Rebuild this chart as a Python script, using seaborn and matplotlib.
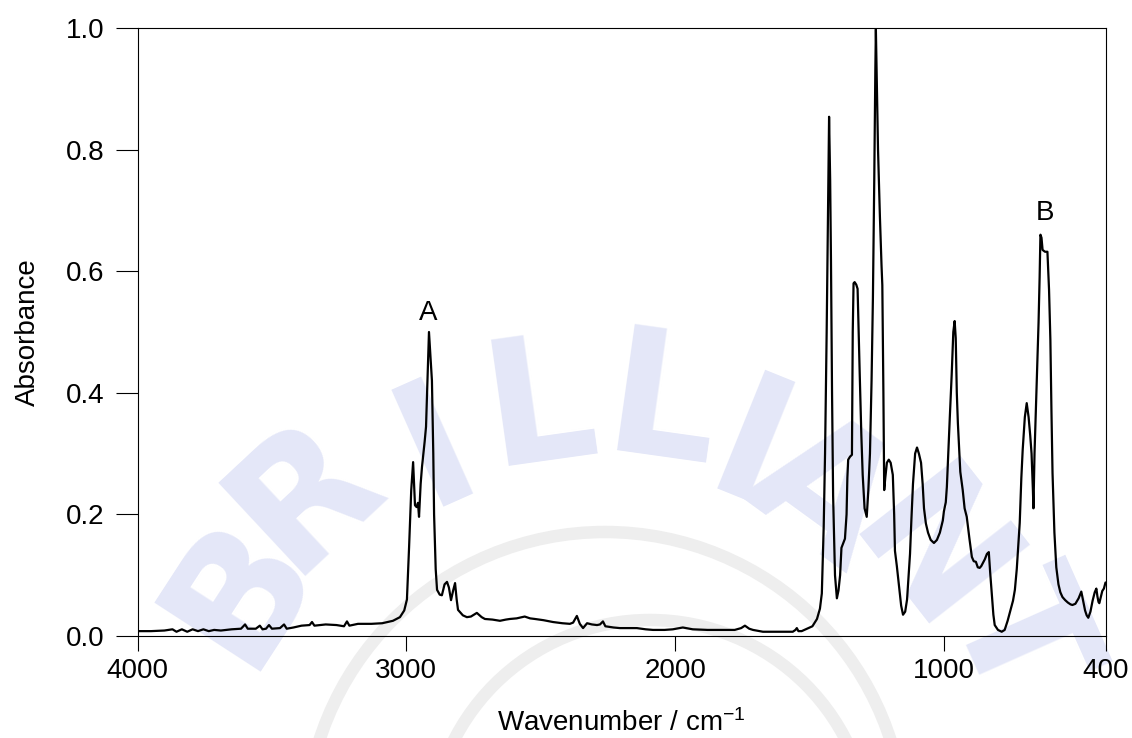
import matplotlib
matplotlib.use("Agg")
import matplotlib.pyplot as plt
from matplotlib.patches import Circle
import numpy as np
import pandas as pd
import seaborn as sns

# ---------------- data ----------------
wavenumber = [
    4000, 3950, 3900, 3870, 3855, 3835, 3815, 3795, 3775, 3755, 3735, 3715, 3690, 3650,
    3615, 3600, 3590, 3560, 3545, 3535, 3522, 3511, 3500, 3470, 3455, 3445, 3420, 3390,
    3360, 3351, 3342, 3300, 3260, 3232, 3221, 3212, 3180, 3130, 3090, 3050, 3024, 3008,
    2998, 2990, 2982, 2975, 2968, 2962, 2957, 2953, 2947, 2942, 2932, 2927, 2920, 2916,
    2912, 2905, 2900, 2897, 2891, 2886, 2876, 2868, 2858, 2849, 2842, 2834, 2826, 2819,
    2813, 2808, 2790, 2775, 2760, 2738, 2720, 2708, 2680, 2652, 2630, 2615, 2590, 2560,
    2540, 2522, 2490, 2455, 2420, 2392, 2380, 2366, 2355, 2343, 2328, 2310, 2291, 2280,
    2269, 2260, 2230, 2206, 2170, 2143, 2110, 2083, 2040, 2009, 1972, 1935, 1880, 1835,
    1779, 1755, 1741, 1725, 1711, 1674, 1620, 1563, 1553, 1548, 1542, 1530, 1510, 1490,
    1473, 1462, 1455, 1448, 1443, 1437, 1432, 1428, 1424, 1421, 1417, 1413, 1406, 1399,
    1393, 1387, 1382, 1376, 1369, 1363, 1360, 1357, 1350, 1343, 1340, 1337, 1333, 1327,
    1322, 1318, 1314, 1308, 1303, 1296, 1288, 1282, 1276, 1270, 1265, 1260, 1256, 1254,
    1250, 1246, 1239, 1233, 1230, 1226, 1223, 1219, 1213, 1206, 1199, 1191, 1186, 1183,
    1176, 1170, 1160, 1153, 1145, 1138, 1132, 1127, 1122, 1116, 1108, 1101, 1094, 1086,
    1080, 1075, 1068, 1060, 1050, 1038, 1027, 1016, 1005, 1001, 994, 990, 984, 979,
    972, 966, 961, 957, 953, 949, 940, 931, 924, 916, 906, 897, 890, 882,
    875, 868, 862, 856, 849, 841, 834, 829, 823, 817, 812, 800, 786, 775,
    764, 752, 744, 737, 730, 724, 719, 713, 708, 700, 693, 686, 680, 675,
    670, 668, 664, 660, 657, 652, 649, 645, 642, 638, 634, 625, 616, 610,
    605, 601, 597, 590, 583, 575, 568, 560, 550, 540, 530, 523, 512, 500,
    490, 484, 476, 470, 464, 456, 448, 440, 434, 430, 426, 423, 418, 412,
    406, 400,
]
absorbance = [
    0.008, 0.008, 0.009, 0.011, 0.007, 0.011, 0.007, 0.011, 0.008, 0.011, 0.008, 0.010, 0.009, 0.011,
    0.012, 0.019, 0.012, 0.012, 0.017, 0.011, 0.012, 0.018, 0.012, 0.013, 0.019, 0.012, 0.014, 0.017,
    0.018, 0.023, 0.017, 0.019, 0.018, 0.016, 0.024, 0.017, 0.020, 0.020, 0.021, 0.025, 0.031, 0.042,
    0.060, 0.146, 0.240, 0.286, 0.215, 0.212, 0.219, 0.196, 0.250, 0.278, 0.320, 0.344, 0.440, 0.500,
    0.470, 0.420, 0.300, 0.200, 0.110, 0.076, 0.068, 0.067, 0.085, 0.089, 0.080, 0.059, 0.075, 0.087,
    0.060, 0.043, 0.034, 0.031, 0.032, 0.038, 0.031, 0.028, 0.027, 0.025, 0.027, 0.028, 0.029, 0.032,
    0.029, 0.028, 0.026, 0.023, 0.021, 0.020, 0.022, 0.033, 0.020, 0.013, 0.021, 0.019, 0.018, 0.019,
    0.024, 0.016, 0.014, 0.013, 0.013, 0.013, 0.011, 0.010, 0.010, 0.011, 0.014, 0.011, 0.010, 0.010,
    0.010, 0.013, 0.017, 0.012, 0.010, 0.007, 0.007, 0.007, 0.010, 0.013, 0.008, 0.008, 0.012, 0.016,
    0.028, 0.045, 0.070, 0.180, 0.300, 0.500, 0.690, 0.854, 0.750, 0.620, 0.400, 0.230, 0.100, 0.062,
    0.075, 0.100, 0.145, 0.152, 0.160, 0.200, 0.260, 0.290, 0.295, 0.298, 0.500, 0.580, 0.582, 0.578,
    0.571, 0.500, 0.430, 0.330, 0.265, 0.210, 0.196, 0.240, 0.300, 0.420, 0.556, 0.750, 0.930, 0.998,
    0.900, 0.800, 0.690, 0.610, 0.577, 0.400, 0.240, 0.260, 0.285, 0.290, 0.285, 0.265, 0.200, 0.140,
    0.115, 0.090, 0.050, 0.035, 0.040, 0.060, 0.100, 0.135, 0.190, 0.250, 0.300, 0.310, 0.300, 0.285,
    0.250, 0.210, 0.185, 0.170, 0.158, 0.153, 0.158, 0.170, 0.190, 0.205, 0.220, 0.245, 0.310, 0.360,
    0.430, 0.500, 0.518, 0.490, 0.400, 0.350, 0.270, 0.240, 0.210, 0.196, 0.160, 0.130, 0.123, 0.122,
    0.113, 0.112, 0.115, 0.120, 0.126, 0.135, 0.138, 0.105, 0.070, 0.035, 0.018, 0.010, 0.007, 0.010,
    0.025, 0.045, 0.058, 0.076, 0.110, 0.150, 0.186, 0.260, 0.306, 0.360, 0.383, 0.360, 0.330, 0.300,
    0.240, 0.210, 0.300, 0.360, 0.400, 0.470, 0.515, 0.590, 0.660, 0.655, 0.635, 0.632, 0.632, 0.570,
    0.487, 0.370, 0.268, 0.170, 0.113, 0.085, 0.072, 0.064, 0.059, 0.055, 0.052, 0.051, 0.053, 0.062,
    0.073, 0.060, 0.042, 0.034, 0.030, 0.040, 0.058, 0.072, 0.078, 0.065, 0.056, 0.054, 0.063, 0.074,
    0.078, 0.088,
]
x_ticks = [4000, 3000, 2000, 1000, 400]
y_ticks = [0.0, 0.2, 0.4, 0.6, 0.8, 1.0]
peak_labels = ["A", "B"]
peak_wavenumbers = [2920, 625]
peak_label_heights = [0.52, 0.684]
watermark_letters = list("BRILLIANT")

# ---------------- style ----------------
sns.set_theme(style="white")
plt.rcParams["font.family"] = ["Liberation Sans", "DejaVu Sans"]
plt.rcParams["mathtext.fontset"] = "custom"
plt.rcParams["mathtext.rm"] = "Liberation Sans"
plt.rcParams["mathtext.it"] = "Liberation Sans:italic"
plt.rcParams["mathtext.bf"] = "Liberation Sans:bold"

W, H = 1132, 738
fig = plt.figure(figsize=(W / 100, H / 100), dpi=100)
fig.patch.set_facecolor("white")

# faint watermark (behind the axes)
wm_pos = [(240, 590, 57), (305, 495, 43), (437, 450, 24), (540, 410, 8), (662, 410, -8),
          (748, 455, -22), (820, 495, -36), (925, 560, -52), (1015, 640, -66)]
for letter, (px, py, rot) in zip(watermark_letters, wm_pos):
    fig.text(px / W, 1 - py / H, letter, rotation=rot, ha="center", va="center",
             fontsize=125, fontweight="heavy", color="#e4e7f8", family="DejaVu Sans",
             zorder=-5)
fig.add_artist(Circle((605 / 100, (H - 832) / 100), 3.0, transform=fig.dpi_scale_trans,
                      fill=False, lw=9, ec="#eeeeee", zorder=-6))
fig.add_artist(Circle((650 / 100, (H - 840) / 100), 2.2, transform=fig.dpi_scale_trans,
                      fill=False, lw=9, ec="#eeeeee", zorder=-6))

left, right, bottom, top = 137.5 / W, 1105.5 / W, 1 - 636 / H, 1 - 28 / H
ax = fig.add_axes([left, bottom, right - left, top - bottom])
ax.patch.set_alpha(0)

df = pd.DataFrame({"Wavenumber": wavenumber, "Absorbance": absorbance})
sns.lineplot(data=df, x="Wavenumber", y="Absorbance", ax=ax, color="black",
             linewidth=1.6, sort=False, estimator=None)

ax.set_xlim(4000, 400)
ax.set_ylim(0, 1.0)
ax.set_xticks(x_ticks)
ax.set_xticklabels([str(t) for t in x_ticks])
ax.set_yticks(y_ticks)
ax.set_yticklabels([f"{t:.1f}" for t in y_ticks])
ax.tick_params(axis="x", bottom=True, direction="out", length=11, width=0.8,
               pad=5, labelsize=20, colors="black")
ax.tick_params(axis="y", left=True, direction="out", length=16, width=0.8,
               pad=8, labelsize=20, colors="black")
for s in ax.spines.values():
    s.set_color("black")
    s.set_linewidth(0.8)

ax.set_xlabel(r"Wavenumber / cm$^{-1}$", fontsize=20, color="black", labelpad=18)
ax.set_ylabel("Absorbance", fontsize=20, color="black", labelpad=18)

for lab, wn, h in zip(peak_labels, peak_wavenumbers, peak_label_heights):
    ax.text(wn, h, lab, ha="center", va="baseline", fontsize=20, color="black")

fig.savefig("out.png", dpi=100)
